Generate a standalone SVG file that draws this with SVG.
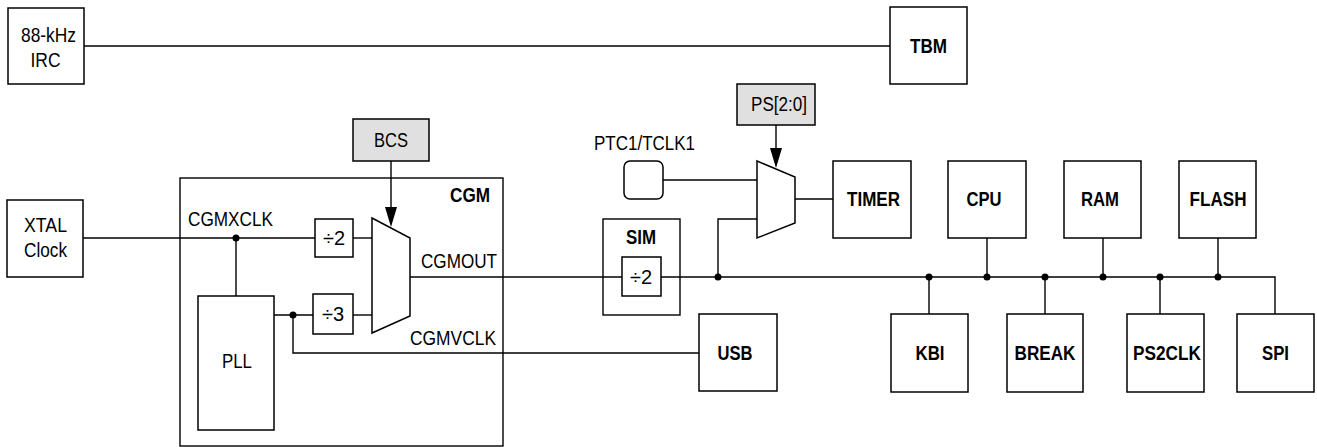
<svg xmlns="http://www.w3.org/2000/svg" width="1317" height="447" viewBox="0 0 1317 447">
<style>
.b{fill:#fff;stroke:#000;stroke-width:1.5}
.g{fill:#e0e0e0;stroke:#000;stroke-width:1.5}
.w{fill:none;stroke:#000;stroke-width:1.4}
.t{font-family:"Liberation Sans",Arial,sans-serif;font-size:20px;fill:#000}
.tb{font-family:"Liberation Sans",Arial,sans-serif;font-size:20px;font-weight:bold;fill:#000}
.m{text-anchor:middle}
.d{fill:#000}
</style>
<defs>
<marker id="ah" viewBox="0 0 12 20" refX="6" refY="20" markerWidth="12" markerHeight="20" markerUnits="userSpaceOnUse" orient="auto-start-reverse">
<path d="M0,0 L12,0 L6,20 Z" fill="#000"/>
</marker>
</defs>
<g id="connectors">
<path class="w" d="M84,46 H890"/>
<path class="w" d="M83,238 H315"/>
<path class="w" d="M236,238 V296"/>
<path class="w" d="M353,238 H372"/>
<path class="w" d="M274,315 H313"/>
<path class="w" d="M353,315 H372"/>
<path class="w" d="M293,315 V353 H699"/>
<path class="w" d="M410,277 H622"/>
<path class="w" d="M661,277 H1275 V314"/>
<path class="w" d="M391,161 V207"/>
<path d="M385,207 L397,207 L391,227 Z" class="d"/>
<path class="w" d="M776,125 V148"/>
<path d="M770,148 L782,148 L776,168 Z" class="d"/>
<path class="w" d="M663,180 H757"/>
<path class="w" d="M718,277 V219 H757"/>
<path class="w" d="M795,199 H833"/>
<path class="w" d="M929,277 V314"/>
<path class="w" d="M987,238 V277"/>
<path class="w" d="M1045,277 V314"/>
<path class="w" d="M1103,238 V277"/>
<path class="w" d="M1160,277 V314"/>
<path class="w" d="M1218,238 V277"/>
<circle class="d" cx="236" cy="238" r="3.5"/>
<circle class="d" cx="293" cy="315" r="3.5"/>
<circle class="d" cx="718" cy="277" r="3.5"/>
<circle class="d" cx="929" cy="277" r="3.5"/>
<circle class="d" cx="987" cy="277" r="3.5"/>
<circle class="d" cx="1045" cy="277" r="3.5"/>
<circle class="d" cx="1103" cy="277" r="3.5"/>
<circle class="d" cx="1160" cy="277" r="3.5"/>
<circle class="d" cx="1218" cy="277" r="3.5"/>
</g>
<g id="irc">
<rect class="b" x="8" y="8" width="76" height="76"/>
<text class="t m" x="48.5" y="42" textLength="55" lengthAdjust="spacingAndGlyphs">88-kHz</text>
<text class="t m" x="45.5" y="67" textLength="30" lengthAdjust="spacingAndGlyphs">IRC</text>
</g>
<g id="tbm">
<rect class="b" x="890" y="7" width="77" height="77"/>
<text class="tb m" x="928.5" y="53" textLength="37" lengthAdjust="spacingAndGlyphs">TBM</text>
</g>
<g id="xtal">
<rect class="b" x="7" y="200" width="76" height="77"/>
<text class="t m" x="45.5" y="232" textLength="43" lengthAdjust="spacingAndGlyphs">XTAL</text>
<text class="t m" x="45.5" y="257" textLength="43" lengthAdjust="spacingAndGlyphs">Clock</text>
</g>
<g id="cgm">
<rect class="w" x="180" y="178" width="323" height="268"/>
<text class="tb m" x="470" y="202" textLength="40" lengthAdjust="spacingAndGlyphs">CGM</text>
<text class="t" x="188" y="226" textLength="85" lengthAdjust="spacingAndGlyphs">CGMXCLK</text>
<text class="t" x="421" y="268" textLength="76" lengthAdjust="spacingAndGlyphs">CGMOUT</text>
<text class="t" x="410" y="345" textLength="86" lengthAdjust="spacingAndGlyphs">CGMVCLK</text>
</g>
<g id="div2">
<rect class="b" x="315" y="219" width="38" height="38"/>
<text class="t m" x="334" y="245">÷2</text>
</g>
<g id="div3">
<rect class="b" x="313" y="294" width="40" height="40"/>
<text class="t m" x="333" y="321">÷3</text>
</g>
<g id="pll">
<rect class="b" x="198" y="296" width="76" height="134"/>
<text class="t m" x="237" y="368" textLength="30" lengthAdjust="spacingAndGlyphs">PLL</text>
</g>
<g id="mux-cgm">
<path class="b" d="M372,218 L410,238 L410,316 L372,333 Z"/>
</g>
<g id="bcs">
<rect class="g" x="353" y="119" width="76" height="42"/>
<text class="t m" x="391" y="147" textLength="34" lengthAdjust="spacingAndGlyphs">BCS</text>
</g>
<g id="ps">
<rect class="g" x="737" y="84" width="78" height="41"/>
<text class="t m" x="779" y="111" textLength="56" lengthAdjust="spacingAndGlyphs">PS[2:0]</text>
</g>
<g id="ptc1">
<text class="t" x="594" y="150" textLength="101" lengthAdjust="spacingAndGlyphs">PTC1/TCLK1</text>
<rect class="b" x="624" y="161" width="39" height="38" rx="6"/>
</g>
<g id="mux-timer">
<path class="b" d="M757,161 L795,177 L795,223 L757,238 Z"/>
</g>
<g id="timer">
<rect class="b" x="833" y="161" width="78" height="77"/>
<text class="tb m" x="873.5" y="206" textLength="53" lengthAdjust="spacingAndGlyphs">TIMER</text>
</g>
<g id="sim">
<rect class="w" x="603" y="219" width="77" height="96"/>
<text class="tb m" x="641" y="244" textLength="30" lengthAdjust="spacingAndGlyphs">SIM</text>
<rect class="b" x="622" y="257" width="39" height="39"/>
<text class="t m" x="641" y="284">÷2</text>
</g>
<g id="usb">
<rect class="b" x="699" y="314" width="78" height="77"/>
<text class="tb m" x="735" y="360" textLength="35" lengthAdjust="spacingAndGlyphs">USB</text>
</g>
<g id="cpu">
<rect class="b" x="948" y="161" width="78" height="77"/>
<text class="tb m" x="984" y="206" textLength="35" lengthAdjust="spacingAndGlyphs">CPU</text>
</g>
<g id="ram">
<rect class="b" x="1064" y="161" width="77" height="77"/>
<text class="tb m" x="1100" y="206" textLength="38" lengthAdjust="spacingAndGlyphs">RAM</text>
</g>
<g id="flash">
<rect class="b" x="1179" y="161" width="77" height="77"/>
<text class="tb m" x="1218" y="206" textLength="57" lengthAdjust="spacingAndGlyphs">FLASH</text>
</g>
<g id="kbi">
<rect class="b" x="891" y="314" width="77" height="78"/>
<text class="tb m" x="930" y="360" textLength="29" lengthAdjust="spacingAndGlyphs">KBI</text>
</g>
<g id="break">
<rect class="b" x="1007" y="314" width="76" height="78"/>
<text class="tb m" x="1045" y="360" textLength="61" lengthAdjust="spacingAndGlyphs">BREAK</text>
</g>
<g id="ps2clk">
<rect class="b" x="1127" y="314" width="77" height="78"/>
<text class="tb m" x="1167" y="360" textLength="68" lengthAdjust="spacingAndGlyphs">PS2CLK</text>
</g>
<g id="spi">
<rect class="b" x="1237" y="314" width="77" height="78"/>
<text class="tb m" x="1275.5" y="360" textLength="27" lengthAdjust="spacingAndGlyphs">SPI</text>
</g>
</svg>
